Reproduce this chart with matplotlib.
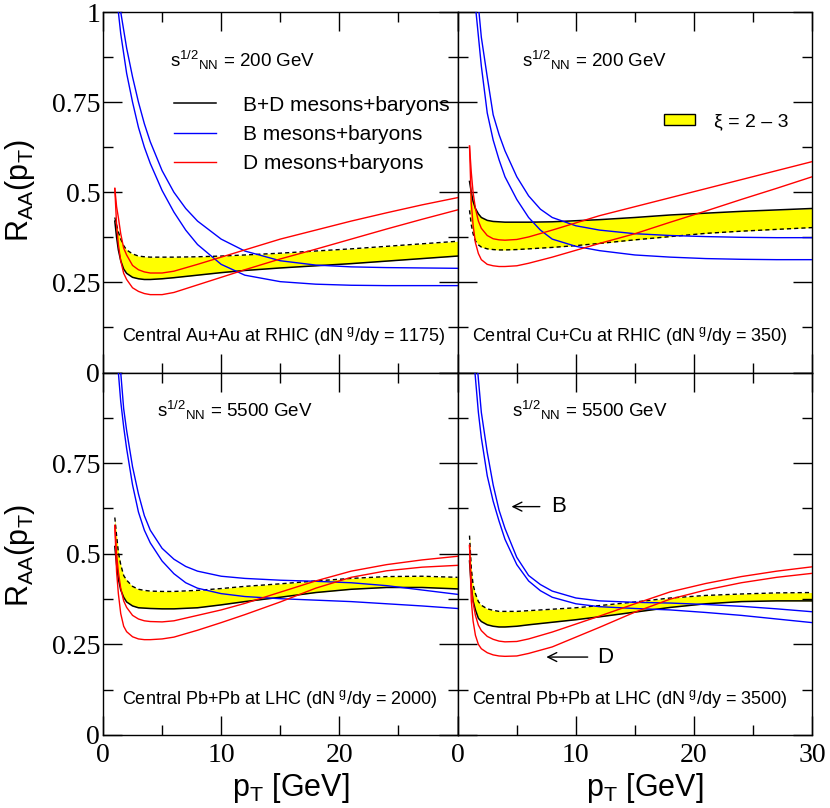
import matplotlib
matplotlib.use("Agg")
import matplotlib.pyplot as plt
from matplotlib.patches import Patch
from matplotlib.ticker import MultipleLocator, FixedLocator, FixedFormatter

plt.rcParams['font.family'] = ['Liberation Sans', 'DejaVu Sans']
plt.rcParams['mathtext.default'] = 'regular'

# ---------------- data ----------------
pt_grid = [1.0, 1.15, 1.3, 1.5, 1.75, 2, 2.5, 3, 3.5, 4, 5, 6, 8, 10, 12, 15, 18, 21, 24, 27, 30]

# Central Au+Au at RHIC (dN^g/dy = 1175), sqrt(s)=200 GeV
au_bd_solid  = [0.42, 0.375, 0.34, 0.31, 0.287, 0.275, 0.264, 0.26, 0.258, 0.258, 0.26, 0.263, 0.27, 0.277, 0.283, 0.29, 0.296, 0.302, 0.309, 0.316, 0.323]
au_bd_dashed = [0.43, 0.41, 0.39, 0.37, 0.352, 0.34, 0.329, 0.323, 0.321, 0.32, 0.32, 0.32, 0.321, 0.323, 0.326, 0.331, 0.337, 0.343, 0.35, 0.357, 0.364]
au_d_hi = [0.511, 0.46, 0.43, 0.385, 0.345, 0.326, 0.297, 0.285, 0.279, 0.276, 0.276, 0.281, 0.30, 0.32, 0.34, 0.37, 0.395, 0.42, 0.443, 0.465, 0.485]
au_d_lo = [0.51, 0.41, 0.355, 0.31, 0.275, 0.258, 0.235, 0.225, 0.219, 0.216, 0.216, 0.222, 0.243, 0.264, 0.285, 0.315, 0.342, 0.37, 0.398, 0.425, 0.451]
au_b_hi_pt = [1.45, 1.5, 2, 2.5, 3, 3.5, 4, 5, 6, 7, 8, 10, 12, 15, 18, 21, 24, 27, 30]
au_b_hi    = [1.03, 1.0, 0.9, 0.82, 0.75, 0.69, 0.64, 0.56, 0.5, 0.455, 0.42, 0.37, 0.337, 0.31, 0.298, 0.293, 0.291, 0.29, 0.289]
au_b_lo_pt = [1.25, 1.3, 1.5, 2, 2.5, 3, 3.5, 4, 5, 6, 7, 8, 10, 12, 15, 18, 21, 24, 27, 30]
au_b_lo    = [1.03, 1.0, 0.94, 0.83, 0.75, 0.68, 0.625, 0.58, 0.505, 0.445, 0.395, 0.355, 0.3, 0.27, 0.252, 0.245, 0.242, 0.241, 0.241, 0.241]

# Central Cu+Cu at RHIC (dN^g/dy = 350), sqrt(s)=200 GeV
cu_bd_solid  = [0.53, 0.5, 0.475, 0.455, 0.44, 0.43, 0.422, 0.419, 0.418, 0.417, 0.417, 0.417, 0.418, 0.421, 0.424, 0.43, 0.437, 0.442, 0.447, 0.451, 0.455]
cu_bd_dashed = [0.45, 0.41, 0.385, 0.365, 0.354, 0.348, 0.343, 0.341, 0.34, 0.34, 0.341, 0.343, 0.347, 0.352, 0.358, 0.368, 0.377, 0.386, 0.392, 0.397, 0.402]
cu_d_hi = [0.628, 0.555, 0.5, 0.455, 0.42, 0.4, 0.38, 0.371, 0.368, 0.367, 0.369, 0.376, 0.395, 0.415, 0.435, 0.46, 0.485, 0.51, 0.535, 0.56, 0.585]
cu_d_lo = [0.628, 0.47, 0.41, 0.36, 0.33, 0.313, 0.3, 0.296, 0.294, 0.294, 0.296, 0.303, 0.32, 0.339, 0.358, 0.385, 0.417, 0.448, 0.48, 0.511, 0.543]
cu_b_hi_pt = [1.75, 1.8, 2, 2.5, 3, 3.5, 4, 5, 6, 7, 8, 10, 12, 15, 18, 21, 24, 27, 30]
cu_b_hi    = [1.02, 1.0, 0.93, 0.82, 0.715, 0.66, 0.615, 0.543, 0.49, 0.453, 0.43, 0.407, 0.395, 0.385, 0.38, 0.377, 0.375, 0.374, 0.374]
cu_b_lo_pt = [1.5, 1.55, 2, 2.5, 3, 3.5, 4, 5, 6, 7, 8, 10, 12, 15, 18, 21, 24, 27, 30]
cu_b_lo    = [1.02, 1.0, 0.85, 0.72, 0.645, 0.59, 0.543, 0.48, 0.43, 0.395, 0.37, 0.35, 0.338, 0.326, 0.32, 0.316, 0.314, 0.313, 0.313]

# Central Pb+Pb at LHC (dN^g/dy = 2000), sqrt(s)=5500 GeV
pb2_bd_solid  = [0.52, 0.47, 0.43, 0.4, 0.38, 0.367, 0.356, 0.351, 0.35, 0.349, 0.348, 0.348, 0.351, 0.359, 0.368, 0.38, 0.393, 0.402, 0.407, 0.407, 0.403]
pb2_bd_dashed = [0.6, 0.55, 0.505, 0.47, 0.44, 0.427, 0.41, 0.402, 0.399, 0.397, 0.396, 0.396, 0.399, 0.404, 0.41, 0.417, 0.425, 0.432, 0.437, 0.438, 0.435]
pb2_d_hi = [0.578, 0.5, 0.45, 0.405, 0.37, 0.352, 0.33, 0.32, 0.315, 0.313, 0.312, 0.315, 0.33, 0.345, 0.363, 0.394, 0.425, 0.452, 0.47, 0.483, 0.493]
pb2_d_lo = [0.578, 0.45, 0.39, 0.335, 0.3, 0.285, 0.271, 0.265, 0.263, 0.263, 0.265, 0.27, 0.289, 0.31, 0.332, 0.367, 0.405, 0.435, 0.453, 0.463, 0.468]
pb2_b_hi_pt = [1.45, 1.5, 1.75, 2, 2.5, 3, 3.5, 4, 5, 6, 7, 8, 10, 12, 15, 18, 21, 24, 27, 30]
pb2_b_hi    = [1.03, 1.0, 0.9, 0.84, 0.74, 0.665, 0.605, 0.565, 0.515, 0.485, 0.465, 0.452, 0.438, 0.432, 0.427, 0.424, 0.42, 0.412, 0.4, 0.388]
pb2_b_lo_pt = [1.25, 1.3, 1.5, 1.75, 2, 2.5, 3, 3.5, 4, 5, 6, 7, 8, 10, 12, 15, 18, 21, 24, 27, 30]
pb2_b_lo    = [1.03, 1.0, 0.92, 0.85, 0.79, 0.69, 0.615, 0.565, 0.53, 0.48, 0.445, 0.42, 0.405, 0.39, 0.382, 0.376, 0.372, 0.368, 0.362, 0.356, 0.349]

# Central Pb+Pb at LHC (dN^g/dy = 3500), sqrt(s)=5500 GeV
pb3_bd_solid  = [0.48, 0.41, 0.37, 0.345, 0.322, 0.313, 0.304, 0.3, 0.298, 0.298, 0.3, 0.304, 0.311, 0.318, 0.326, 0.339, 0.352, 0.362, 0.368, 0.37, 0.37]
pb3_bd_dashed = [0.55, 0.46, 0.415, 0.39, 0.368, 0.358, 0.348, 0.344, 0.341, 0.341, 0.341, 0.343, 0.347, 0.351, 0.357, 0.367, 0.378, 0.385, 0.389, 0.392, 0.393]
pb3_d_hi = [0.523, 0.41, 0.365, 0.33, 0.303, 0.288, 0.272, 0.264, 0.259, 0.257, 0.258, 0.265, 0.284, 0.306, 0.328, 0.362, 0.395, 0.418, 0.437, 0.452, 0.464]
pb3_d_lo = [0.523, 0.37, 0.315, 0.275, 0.25, 0.238, 0.227, 0.221, 0.218, 0.217, 0.218, 0.225, 0.243, 0.27, 0.297, 0.339, 0.375, 0.4, 0.42, 0.435, 0.446]
pb3_b_hi_pt = [1.65, 1.7, 2, 2.5, 3, 3.5, 4, 5, 6, 7, 8, 10, 12, 15, 18, 21, 24, 27, 30]
pb3_b_hi    = [1.03, 1.0, 0.89, 0.78, 0.69, 0.62, 0.57, 0.49, 0.44, 0.415, 0.397, 0.378, 0.37, 0.366, 0.364, 0.36, 0.355, 0.348, 0.34]
pb3_b_lo_pt = [1.42, 1.46, 1.75, 2, 2.5, 3, 3.5, 4, 5, 6, 7, 8, 10, 12, 15, 18, 21, 24, 27, 30]
pb3_b_lo    = [1.03, 1.0, 0.89, 0.82, 0.715, 0.645, 0.59, 0.54, 0.47, 0.425, 0.398, 0.38, 0.362, 0.354, 0.349, 0.345, 0.338, 0.33, 0.32, 0.31]

energy_labels = [r"s$^{1/2}$$_{NN}$ = 200 GeV", r"s$^{1/2}$$_{NN}$ = 200 GeV",
                 r"s$^{1/2}$$_{NN}$ = 5500 GeV", r"s$^{1/2}$$_{NN}$ = 5500 GeV"]
system_labels = [r"Central Au+Au at RHIC (dN$^{\ g}$/dy = 1175)",
                 r"Central Cu+Cu at RHIC (dN$^{\ g}$/dy = 350)",
                 r"Central Pb+Pb at LHC (dN$^{\ g}$/dy = 2000)",
                 r"Central Pb+Pb at LHC (dN$^{\ g}$/dy = 3500)"]
legend_labels = ["B+D mesons+baryons", "B mesons+baryons", "D mesons+baryons"]
band_label = "\u03be = 2 \u2013 3"
x_ticks = [0, 10, 20, 30]
y_ticks = [0, 0.25, 0.5, 0.75, 1]
y_ticklabels = ["0", "0.25", "0.5", "0.75", "1"]

panels = [
    dict(solid=au_bd_solid, dashed=au_bd_dashed, dhi=au_d_hi, dlo=au_d_lo,
         bhx=au_b_hi_pt, bh=au_b_hi, blx=au_b_lo_pt, bl=au_b_lo),
    dict(solid=cu_bd_solid, dashed=cu_bd_dashed, dhi=cu_d_hi, dlo=cu_d_lo,
         bhx=cu_b_hi_pt, bh=cu_b_hi, blx=cu_b_lo_pt, bl=cu_b_lo),
    dict(solid=pb2_bd_solid, dashed=pb2_bd_dashed, dhi=pb2_d_hi, dlo=pb2_d_lo,
         bhx=pb2_b_hi_pt, bh=pb2_b_hi, blx=pb2_b_lo_pt, bl=pb2_b_lo),
    dict(solid=pb3_bd_solid, dashed=pb3_bd_dashed, dhi=pb3_d_hi, dlo=pb3_d_lo,
         bhx=pb3_b_hi_pt, bh=pb3_b_hi, blx=pb3_b_lo_pt, bl=pb3_b_lo),
]

# ---------------- figure ----------------
W, H = 830, 808
fig = plt.figure(figsize=(W / 100, H / 100), dpi=100)

xl = [103, 457.7]
xw = 354.5
yt = [12, 372.5]
yh = [360.5, 362.5]

axes = []
for i in range(4):
    r, c = divmod(i, 2)
    left = xl[c] / W
    bottom = 1 - (yt[r] + yh[r]) / H
    ax = fig.add_axes([left, bottom, xw / W, yh[r] / H])
    axes.append(ax)

serif = ['Liberation Serif', 'DejaVu Serif']
blue = '#0000ff'
red = '#ff0000'

for i, (ax, p) in enumerate(zip(axes, panels)):
    r, c = divmod(i, 2)
    ax.fill_between(pt_grid, p['solid'], p['dashed'], color='#ffff00', lw=0, zorder=1)
    lb, = ax.plot(p['bhx'], p['bh'], color=blue, lw=1.0, zorder=3)
    ax.plot(p['blx'], p['bl'], color=blue, lw=1.0, zorder=3)
    lr, = ax.plot(pt_grid, p['dhi'], color=red, lw=1.0, zorder=3)
    ax.plot(pt_grid, p['dlo'], color=red, lw=1.0, zorder=3)
    lk, = ax.plot(pt_grid, p['solid'], color='black', lw=1.1, zorder=2)
    ax.plot(pt_grid, p['dashed'], color='black', lw=1.0, dashes=(3.0, 2.2), zorder=2)

    ax.set_xlim(0, 30)
    ax.set_ylim(0, 1)
    ax.xaxis.set_major_locator(FixedLocator(x_ticks))
    ax.xaxis.set_minor_locator(MultipleLocator(5))
    ax.yaxis.set_major_locator(FixedLocator(y_ticks))
    ax.yaxis.set_minor_locator(MultipleLocator(0.125))
    ax.tick_params(which='both', direction='in', top=True, right=True, width=1.0, color='black')
    ax.tick_params(which='major', length=13.5)
    ax.tick_params(which='minor', length=7)
    ax.tick_params(axis='y', pad=2)
    ax.tick_params(axis='x', pad=6)
    for s in ax.spines.values():
        s.set_linewidth(1.0)

    if r == 1:
        xlabs = [str(t) for t in x_ticks]
        if c == 0:
            xlabs[-1] = ""
        ax.xaxis.set_major_formatter(FixedFormatter(xlabs))
        for t in ax.get_xticklabels():
            t.set_fontfamily(serif)
            t.set_fontsize(20)
    else:
        ax.set_xticklabels([])
    if c == 0:
        ylabs = list(y_ticklabels)
        if r == 1:
            ylabs[-1] = ""
        ax.yaxis.set_major_formatter(FixedFormatter(ylabs))
        for t in ax.get_yticklabels():
            t.set_fontfamily(serif)
            t.set_fontsize(20)
    else:
        ax.set_yticklabels([])

    # texts
    ey = 0.848 if r == 0 else 0.878
    ex = [5.66, 5.41, 4.54, 4.56][i]
    ax.text(ex, ey, energy_labels[i], fontsize=13.5, va='baseline', ha='left')
    sx = [1.58, 1.18, 1.58, 1.18][i]
    ax.text(sx, 0.086, system_labels[i], fontsize=13, va='baseline', ha='left')

    if i == 0:
        ax.legend([lk, lb, lr], legend_labels, loc='upper left', bbox_to_anchor=(0.2, 0.768),
                  frameon=False, fontsize=15, handlelength=2.0, handletextpad=1.3,
                  labelspacing=0.5, borderpad=0, borderaxespad=0)
    if i == 1:
        ax.legend([Patch(facecolor='#ffff00', edgecolor='black', lw=1.0)], [band_label],
                  loc='center left', bbox_to_anchor=(0.583, 0.695), frameon=False,
                  fontsize=14, handlelength=1.6, handleheight=0.55, handletextpad=0.95,
                  borderpad=0, borderaxespad=0)
    if i == 3:
        ax.annotate("", xy=(4.55, 0.63), xytext=(6.95, 0.63),
                    arrowprops=dict(arrowstyle='->', lw=1.0, color='black', mutation_scale=16,
                                    shrinkA=0, shrinkB=0))
        ax.text(7.9, 0.63, "B", fontsize=16, va='center', ha='left')
        ax.annotate("", xy=(7.5, 0.215), xytext=(11.0, 0.215),
                    arrowprops=dict(arrowstyle='->', lw=1.0, color='black', mutation_scale=16,
                                    shrinkA=0, shrinkB=0))
        ax.text(11.8, 0.215, "D", fontsize=16, va='center', ha='left')

ylab = r"R$_{AA}$(p$_{T}$)"
fig.text(20 / W, 1 - 190 / H, ylab, rotation=90, fontsize=22, ha='center', va='center')
fig.text(20 / W, 1 - 555 / H, ylab, rotation=90, fontsize=22, ha='center', va='center')
xlab = r"p$_{T}$ [GeV]"
fig.text(291 / W, 1 - 796 / H, xlab, fontsize=22, ha='center', va='baseline')
fig.text(645 / W, 1 - 796 / H, xlab, fontsize=22, ha='center', va='baseline')

fig.savefig("out.png", dpi=100)
